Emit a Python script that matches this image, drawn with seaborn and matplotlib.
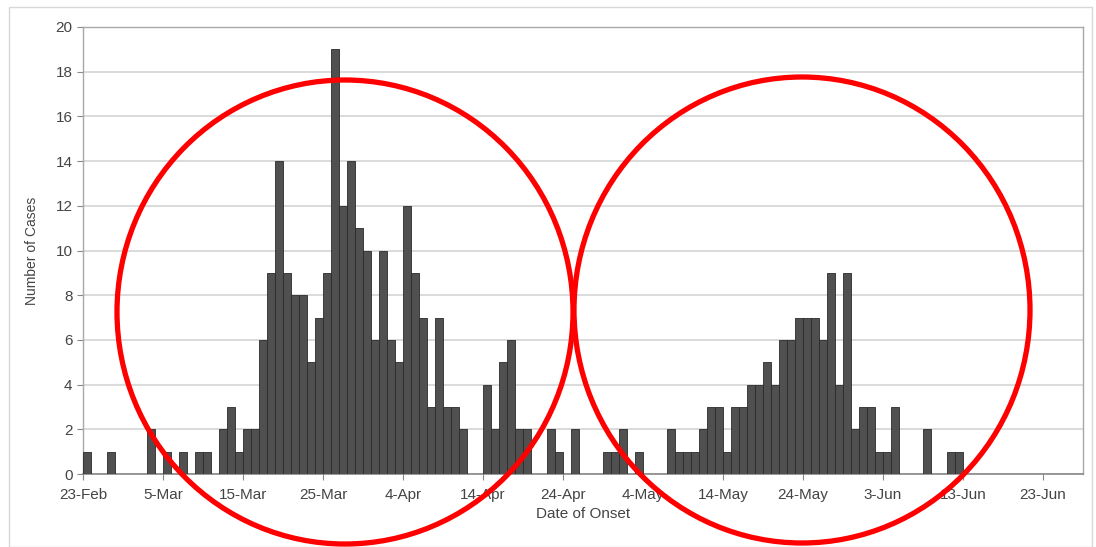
import numpy as np
import pandas as pd
import seaborn as sns
import matplotlib.pyplot as plt
from matplotlib.patches import Ellipse, Rectangle

# ---- data: daily case counts by date of onset (days with no cases omitted) ----
onset_dates = [
    "23-Feb", "26-Feb", "3-Mar", "5-Mar", "7-Mar", "9-Mar", "10-Mar", "12-Mar",
    "13-Mar", "14-Mar", "15-Mar", "16-Mar", "17-Mar", "18-Mar", "19-Mar", "20-Mar",
    "21-Mar", "22-Mar", "23-Mar", "24-Mar", "25-Mar", "26-Mar", "27-Mar", "28-Mar",
    "29-Mar", "30-Mar", "31-Mar", "1-Apr", "2-Apr", "3-Apr", "4-Apr", "5-Apr",
    "6-Apr", "7-Apr", "8-Apr", "9-Apr", "10-Apr", "11-Apr", "14-Apr", "15-Apr",
    "16-Apr", "17-Apr", "18-Apr", "19-Apr", "22-Apr", "23-Apr", "25-Apr", "29-Apr",
    "30-Apr", "1-May", "3-May", "7-May", "8-May", "9-May", "10-May", "11-May",
    "12-May", "13-May", "14-May", "15-May", "16-May", "17-May", "18-May", "19-May",
    "20-May", "21-May", "22-May", "23-May", "24-May", "25-May", "26-May", "27-May",
    "28-May", "29-May", "30-May", "31-May", "1-Jun", "2-Jun", "3-Jun", "4-Jun",
    "8-Jun", "11-Jun", "12-Jun",
]
cases = [
    1, 1, 2, 1, 1, 1, 1, 2,
    3, 1, 2, 2, 6, 9, 14, 9,
    8, 8, 5, 7, 9, 19, 12, 14,
    11, 10, 6, 10, 6, 5, 12, 9,
    7, 3, 7, 3, 3, 2, 4, 2,
    5, 6, 2, 2, 2, 1, 2, 1,
    1, 2, 1, 2, 1, 1, 1, 2,
    3, 3, 1, 3, 3, 4, 4, 5,
    4, 6, 6, 7, 7, 7, 6, 9,
    4, 9, 2, 3, 3, 1, 1, 3,
    2, 1, 1,
]
start_date = "23-Feb-2003"
end_date = "28-Jun-2003"
tick_step_days = 10

# build a full daily table (days without cases -> 0)
counts = pd.Series(cases, index=pd.to_datetime([d + "-2003" for d in onset_dates], format="%d-%b-%Y"))
all_days = pd.date_range(pd.to_datetime(start_date, format="%d-%b-%Y"),
                         pd.to_datetime(end_date, format="%d-%b-%Y"), freq="D")
df = pd.DataFrame({"date": all_days, "cases": counts.reindex(all_days, fill_value=0).values})
df["day"] = np.arange(len(df))

# ---- setup & theming ----
sns.set_theme(style="white")
plt.rcParams["font.family"] = ["Liberation Sans", "DejaVu Sans"]

fig = plt.figure(figsize=(10.96, 5.47), dpi=100)
ax = fig.add_axes([83 / 1096, 1 - 474 / 547, 1000 / 1096, 447 / 547])

sns.barplot(data=df, x="day", y="cases", color="#505050", saturation=1,
            width=1, edgecolor="#2a2a2a", linewidth=0.6, ax=ax, zorder=3)

ax.set_xlim(-0.5, 124.5)
ax.set_ylim(0, 20)
ax.set_yticks(np.arange(0, 21, 2))
tick_days = np.arange(0, 121, tick_step_days)
ax.set_xticks(tick_days - 0.5)
ax.set_xticklabels([f"{d.day}-{d.strftime('%b')}" for d in df["date"].iloc[tick_days]])

ax.yaxis.grid(True, color="#d4d4d4", linewidth=1.2, zorder=0)
ax.set_axisbelow(True)
for side in ["top", "right", "left"]:
    ax.spines[side].set_color("#a8a8a8")
    ax.spines[side].set_linewidth(1.0)
ax.spines["bottom"].set_color("#888888")
ax.spines["bottom"].set_linewidth(1.2)

ax.tick_params(axis="both", which="major", length=4, width=0.8, color="#888888",
               labelsize=11, labelcolor="#444444", direction="out",
               bottom=True, left=True)
ax.tick_params(axis="x", pad=6)
ax.set_xlabel("Date of Onset", fontsize=11, color="#444444", labelpad=4)
ax.set_ylabel("Number of Cases", fontsize=10, color="#444444", labelpad=12)

# light frame around the whole chart
fig.patches.append(Rectangle((9 / 1096, 0.0), 1083 / 1096, 1 - 7 / 547,
                             transform=fig.transFigure, fill=False,
                             edgecolor="#d8d8d8", linewidth=1.0))

# red highlight circles
for cx, cy, w, h in [(345, 312, 456, 464), (802, 310, 456, 466)]:
    fig.patches.append(Ellipse((cx / 1096, 1 - cy / 547), w / 1096, h / 547,
                               transform=fig.transFigure, fill=False,
                               edgecolor="#ff0000", linewidth=3.8, zorder=10))

fig.savefig("out.png", dpi=100)
